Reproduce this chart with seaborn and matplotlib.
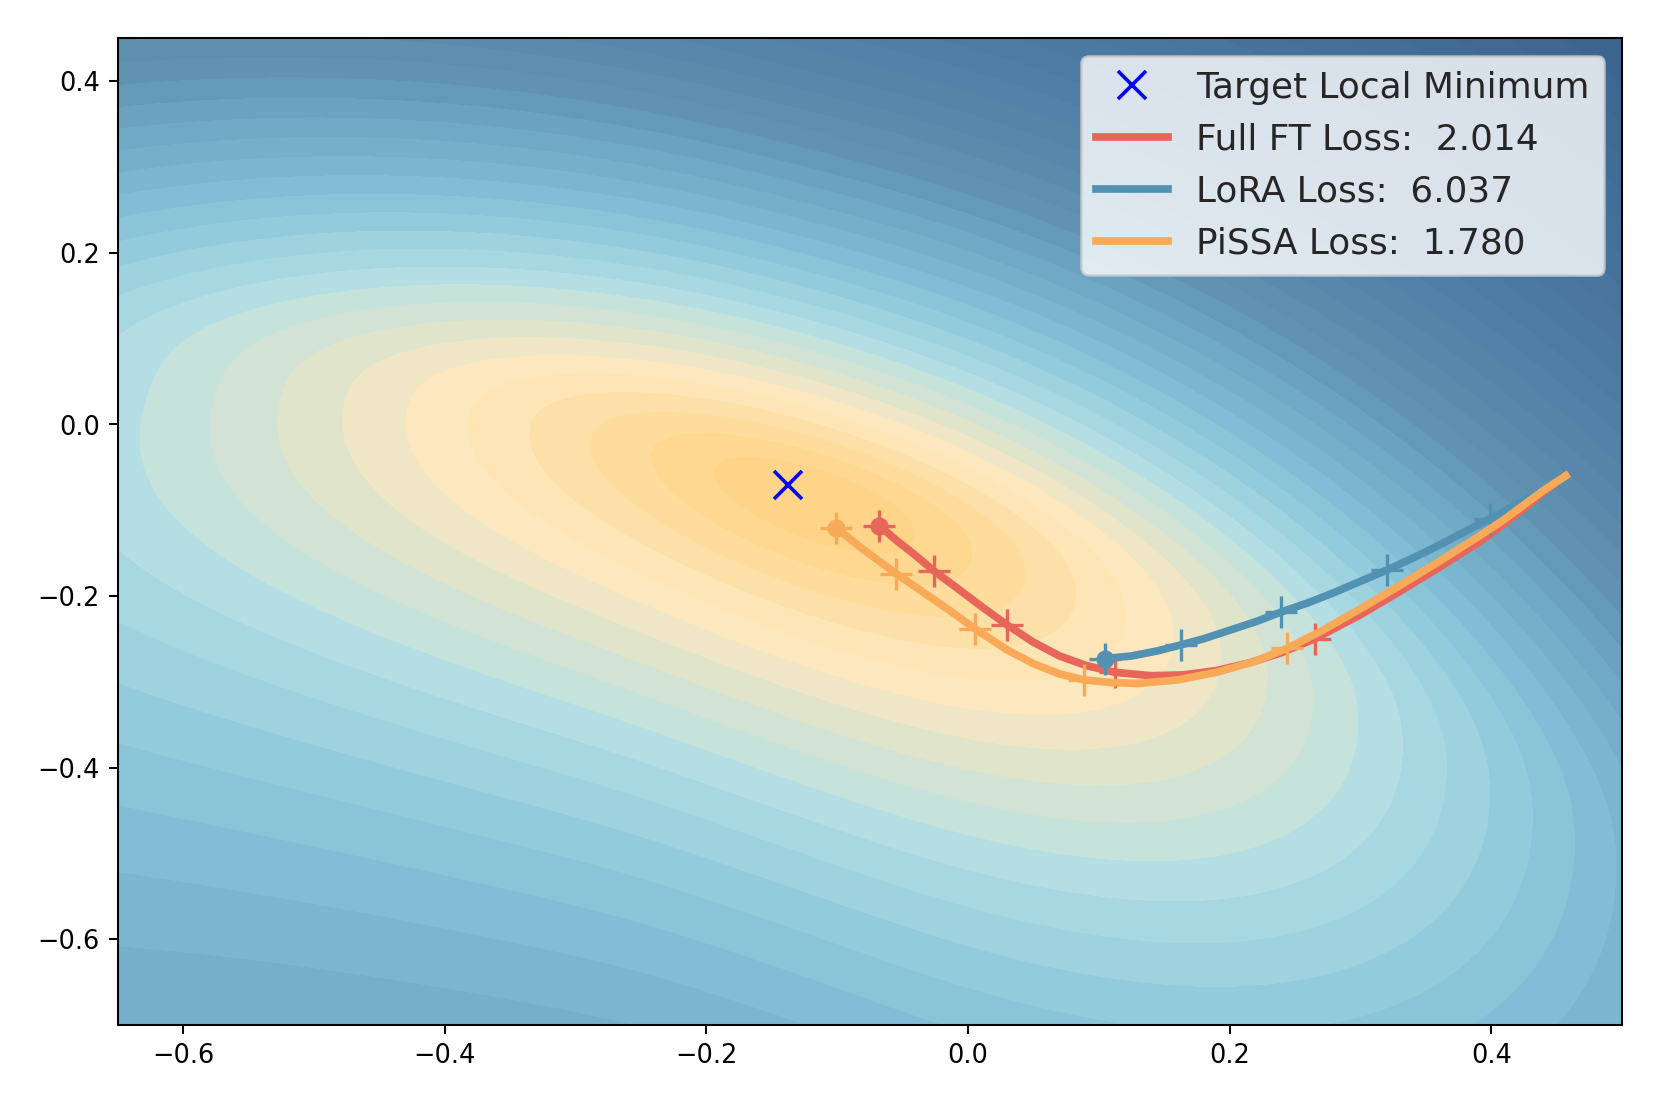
import matplotlib.pyplot as plt
import numpy as np
import seaborn as sns
from matplotlib.colors import LinearSegmentedColormap

# --- data ---

TARGET_X = -0.1375
TARGET_Y = -0.071

# trajectories (start at the shared init point, end at the dot)
FT_X = [0.457, 0.44, 0.425, 0.408, 0.392, 0.36, 0.33, 0.30, 0.265, 0.24, 0.215, 0.19, 0.165,
        0.14, 0.112, 0.09, 0.07, 0.05, 0.03, 0.01, -0.01, -0.026, -0.04, -0.055, -0.068]
FT_Y = [-0.060, -0.079, -0.098, -0.118, -0.136, -0.167, -0.195, -0.222, -0.250, -0.266, -0.278,
        -0.287, -0.292, -0.293, -0.289, -0.281, -0.270, -0.254, -0.234, -0.212, -0.189, -0.171,
        -0.153, -0.135, -0.118]
LORA_X = [0.457, 0.44, 0.42, 0.399, 0.38, 0.36, 0.34, 0.32, 0.30, 0.28, 0.26, 0.239, 0.22,
          0.20, 0.18, 0.163, 0.145, 0.125, 0.105]
LORA_Y = [-0.062, -0.076, -0.093, -0.110, -0.125, -0.141, -0.156, -0.170, -0.183, -0.196, -0.208,
          -0.219, -0.230, -0.240, -0.250, -0.257, -0.264, -0.270, -0.273]
PISSA_X = [0.457, 0.44, 0.425, 0.408, 0.39, 0.36, 0.33, 0.30, 0.27, 0.244, 0.22, 0.19, 0.16,
           0.13, 0.11, 0.089, 0.07, 0.05, 0.03, 0.005, -0.015, -0.035, -0.055, -0.08, -0.101]
PISSA_Y = [-0.060, -0.077, -0.094, -0.113, -0.131, -0.160, -0.188, -0.215, -0.241, -0.261, -0.276,
           -0.289, -0.298, -0.302, -0.301, -0.298, -0.291, -0.279, -0.263, -0.238, -0.216, -0.195,
           -0.174, -0.146, -0.121]

# "+" step markers
FT_STEP_X = [-0.068, -0.026, 0.030, 0.112, 0.265]
FT_STEP_Y = [-0.118, -0.171, -0.234, -0.289, -0.250]
LORA_STEP_X = [0.105, 0.163, 0.239, 0.320, 0.399]
LORA_STEP_Y = [-0.273, -0.257, -0.219, -0.170, -0.110]
PISSA_STEP_X = [-0.101, -0.055, 0.005, 0.089, 0.244]
PISSA_STEP_Y = [-0.121, -0.174, -0.238, -0.298, -0.261]

LOSS_FT = 2.014
LOSS_LORA = 6.037
LOSS_PISSA = 1.780

# loss landscape: a curved valley (three points on its floor, the middle one is
# the bottom of the bowl) and the contour slopes along / across it
VALLEY_X = [-0.647, -0.116, 0.40]
VALLEY_Y = [0.05, -0.09, -0.43]
ALONG_SLOPE = 25.0        # contour bands per unit along the valley
ALONG_SKEW = 0.2          # steeper to the right
ACROSS_SLOPE = 46.0       # bands per unit across the valley
ACROSS_UP_BOOST = 24.0
ACROSS_UP_DECAY = 26.0
ACROSS_DOWN_DECAY = 0.7
BELOW_FADE = 0.9          # lower left: the along term fades away from the floor
LEFT_SOFTEN = 0.2
ROUND_TIP = 1.35          # rounds the bottom of the bowl

# band colours, by level
CMAP_LEVELS = [0.5, 1.5, 2.5, 3.5, 4.5, 5.5, 6.5, 7.5, 8.5, 9.5, 10.5, 11.5, 12.5, 13.5,
               14.5, 15.5, 16.5, 17.5, 18.5, 19.5, 20.5, 21.5, 24.5, 28, 33, 39]
CMAP_COLORS = ["#FED588", "#FED891", "#FEDC9B", "#FDE1A9", "#FDE5B6", "#FDE7BF", "#EDE6C6",
               "#DFE4CB", "#D2E3D5", "#C4E2DC", "#B3DEE3", "#A7D8E1", "#9CD1DE", "#92CBDC",
               "#89C4D9", "#81BDD5", "#7BB6CF", "#75AFCA", "#70A9C5", "#6AA2BF", "#6499B8",
               "#5F93B1", "#5887AB", "#4F7DA4", "#46709A", "#3D648F"]

COLOR_FT = "#E8655A"
COLOR_LORA = "#5291B1"
COLOR_PISSA = "#F8AA58"

# --- landscape grid ---
gx, gy = np.meshgrid(np.linspace(-0.65, 0.5, 500), np.linspace(-0.7, 0.45, 500))
vale = np.polyfit(VALLEY_X, VALLEY_Y, 2)
y_vale = np.polyval(vale, gx)
incl = np.polyval(np.polyder(vale), gx)
dn = (gy - y_vale) / np.sqrt(1 + incl**2)
dx = gx - VALLEY_X[1]


def suave_neg(v, s):
    # smooth version of min(v, 0)
    return -s * np.logaddexp(0, -v / s)


def suave_pos(v, s):
    # smooth version of max(v, 0)
    return s * np.logaddexp(0, v / s)


k_along = ALONG_SLOPE * np.exp(ALONG_SKEW * dx)
peso_esq = 0.5 * (1 + np.tanh((-dx - 0.15) / 0.1))
fade = np.exp(BELOW_FADE * suave_neg(dn, 0.03) * peso_esq)
lado = 1 - LEFT_SOFTEN * suave_pos(-dx, 0.03)
k_across = np.where(
    dn >= 0,
    ACROSS_SLOPE + ACROSS_UP_BOOST * np.tanh(dn / 0.08) - ACROSS_UP_DECAY * dn,
    ACROSS_SLOPE * np.exp(ACROSS_DOWN_DECAY * dn),
) * lado
Z = np.sqrt((k_along * dx * fade) ** 2 + (k_across * dn) ** 2 + ROUND_TIP**2) - ROUND_TIP

vmin, vmax = CMAP_LEVELS[0], CMAP_LEVELS[-1]
pos = [(v - vmin) / (vmax - vmin) for v in CMAP_LEVELS]
cmap = LinearSegmentedColormap.from_list("paisagem", list(zip(pos, CMAP_COLORS)))

# --- figure ---
sns.set_style("ticks")
plt.rcParams["font.family"] = ["DejaVu Sans"]
plt.rcParams["lines.solid_capstyle"] = "projecting"
plt.rcParams["axes.edgecolor"] = "black"
plt.rcParams["xtick.color"] = "black"
plt.rcParams["ytick.color"] = "black"

fig = plt.figure(figsize=(9, 6), dpi=184.56)
ax = fig.add_axes([0.0710, 0.0741, 0.9055, 0.8911])

ax.contourf(gx, gy, Z, levels=np.arange(0, 60), cmap=cmap, vmin=vmin, vmax=vmax, zorder=0)

ax.plot([TARGET_X], [TARGET_Y], linestyle="none", marker="x", color="blue",
        markersize=11, markeredgewidth=1.4, label="Target Local Minimum", zorder=5)

series = [
    (FT_X, FT_Y, FT_STEP_X, FT_STEP_Y, COLOR_FT, f"Full FT Loss: {LOSS_FT: .3f}"),
    (LORA_X, LORA_Y, LORA_STEP_X, LORA_STEP_Y, COLOR_LORA, f"LoRA Loss: {LOSS_LORA: .3f}"),
    (PISSA_X, PISSA_Y, PISSA_STEP_X, PISSA_STEP_Y, COLOR_PISSA, f"PiSSA Loss: {LOSS_PISSA: .3f}"),
]
for i, (xs, ys, sx, sy, cor, rotulo) in enumerate(series):
    sns.lineplot(x=xs, y=ys, sort=False, estimator=None, color=cor, linewidth=3,
                 label=rotulo, ax=ax, zorder=3 + i * 0.1)
    sns.scatterplot(x=sx, y=sy, marker="+", s=150, color=cor, linewidth=1.3,
                    ax=ax, zorder=3 + i * 0.1, legend=False)
    sns.scatterplot(x=[xs[-1]], y=[ys[-1]], marker="o", s=50, color=cor, linewidth=0,
                    ax=ax, zorder=3.05 + i * 0.1, legend=False)

ax.set_xlim(-0.65, 0.5)
ax.set_ylim(-0.7, 0.45)
ax.tick_params(labelsize=10)

ax.legend(loc="upper right", fontsize=14, frameon=True, framealpha=0.8, edgecolor="0.8", fancybox=True)

fig.savefig("out.png", dpi=184.56)
plt.close(fig)
